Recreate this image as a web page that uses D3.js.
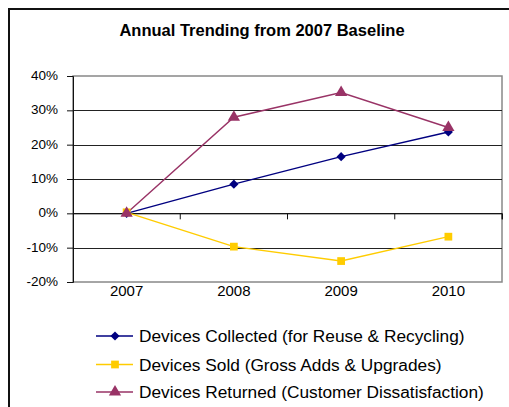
<!DOCTYPE html>
<html>
<head>
<meta charset="utf-8">
<script src="https://cdn.jsdelivr.net/npm/d3@7"></script>
<style>
body { margin: 0; background: #fff; }
text { font-family: "Liberation Sans", Arial, sans-serif; }
</style>
</head>
<body>
<div class="chart-container"></div>
<script>
var years = ["2007", "2008", "2009", "2010"];
var collected = [0, 8.5, 16.5, 23.7];
var sold = [0.3, -9.7, -13.9, -6.8];
var returned = [0, 28, 35.2, 25];
var yTicks = [40, 30, 20, 10, 0, -10, -20];
var seriesNames = [
    "Devices Collected (for Reuse & Recycling)",
    "Devices Sold (Gross Adds & Upgrades)",
    "Devices Returned (Customer Dissatisfaction)"
];

var W = 509, H = 407;
var margin = {top: 76, right: 7, bottom: 125, left: 73};
var plotW = W - margin.left - margin.right,
    plotH = H - margin.top - margin.bottom;

// diamond = square turned 45 degrees
var series = [
    {name: seriesNames[0], values: collected, color: "#000080", shape: d3.symbolSquare, size: 42, rot: 45},
    {name: seriesNames[1], values: sold, color: "#FFCC00", shape: d3.symbolSquare, size: 60, rot: 0},
    {name: seriesNames[2], values: returned, color: "#993366", shape: d3.symbolTriangle, size: 65, rot: 0}
];

var svg = d3.select(".chart-container")
    .append("svg")
    .attr("width", W)
    .attr("height", H);

// outer chart frame
svg.append("rect")
    .attr("x", 9).attr("y", 9)
    .attr("width", W + 10).attr("height", H + 10)
    .attr("fill", "none")
    .attr("stroke", "#111")
    .attr("stroke-width", 2);

svg.append("text")
    .attr("x", 262).attr("y", 36)
    .attr("text-anchor", "middle")
    .style("font-size", "16.5px")
    .style("font-weight", "bold")
    .text("Annual Trending from 2007 Baseline");

var g = svg.append("g")
    .attr("transform", "translate(" + margin.left + "," + margin.top + ")");

var x = d3.scaleBand().domain(years).range([0, plotW]).padding(0);
var y = d3.scaleLinear().domain([-20, 40]).range([plotH, 0]);

// plot border
g.append("rect")
    .attr("width", plotW).attr("height", plotH)
    .attr("fill", "none")
    .attr("stroke", "#888")
    .attr("stroke-width", 1.5);

// gridlines
g.selectAll(".grid")
    .data(yTicks.filter(function (d) { return d != 40 && d != -20; }))
    .enter().append("line")
    .attr("x1", 0).attr("x2", plotW)
    .attr("y1", function (d) { return Math.round(y(d)) + 0.5; })
    .attr("y2", function (d) { return Math.round(y(d)) + 0.5; })
    .attr("stroke", "#222")
    .attr("stroke-width", 1.2);

// y axis
var yAxis = g.append("g")
    .call(d3.axisLeft(y).tickValues(yTicks).tickSize(6).tickFormat(function (d) { return d + "%"; }));
yAxis.select(".domain").attr("stroke", "#111");
yAxis.selectAll(".tick line").attr("stroke", "#111");
yAxis.selectAll("text")
    .attr("x", -15)
    .attr("dy", "0.25em")
    .style("font-size", "13.5px")
    .style("font-family", "Liberation Sans, Arial, sans-serif")
    .attr("fill", "#000");

// category axis sits on the 0% line
var xAxis = g.append("g")
    .attr("transform", "translate(0," + y(0) + ")")
    .call(d3.axisBottom(x).tickSize(6).tickFormat(""));
xAxis.select(".domain").attr("stroke", "#111");
xAxis.selectAll(".tick line")
    .attr("transform", function () { return "translate(" + (x.bandwidth() / 2) + ",0)"; })
    .attr("stroke", "#111");

// category labels under the plot
g.selectAll(".xlab")
    .data(years)
    .enter().append("text")
    .attr("x", function (d) { return x(d) + x.bandwidth() / 2; })
    .attr("y", plotH + 14)
    .attr("text-anchor", "middle")
    .style("font-size", "15px")
    .text(function (d) { return d; });

var line = d3.line()
    .x(function (d, i) { return x(years[i]) + x.bandwidth() / 2; })
    .y(function (d) { return y(d); });

series.forEach(function (s) {
    g.append("path")
        .datum(s.values)
        .attr("d", line)
        .attr("fill", "none")
        .attr("stroke", s.color)
        .attr("stroke-width", 1.4);
});
series.forEach(function (s) {
    g.selectAll(null)
        .data(s.values)
        .enter().append("path")
        .attr("d", d3.symbol().type(s.shape).size(s.size))
        .attr("transform", function (d, i) {
            return "translate(" + (x(years[i]) + x.bandwidth() / 2) + "," + y(d) + ") rotate(" + s.rot + ")";
        })
        .attr("fill", s.color);
});

// legend
var legend = svg.append("g").attr("transform", "translate(96,336)");
var rows = legend.selectAll(".row")
    .data(series)
    .enter().append("g")
    .attr("transform", function (d, i) { return "translate(0," + [0, 28.5, 56][i] + ")"; });
rows.append("line")
    .attr("x1", 0).attr("x2", 37)
    .attr("stroke", function (d) { return d.color; })
    .attr("stroke-width", 1.5);
rows.append("path")
    .attr("d", function (d) { return d3.symbol().type(d.shape).size(d.size)(); })
    .attr("transform", function (d) { return "translate(19,0) rotate(" + d.rot + ")"; })
    .attr("fill", function (d) { return d.color; });
rows.append("text")
    .attr("x", 43).attr("y", 6)
    .style("font-size", "17.3px")
    .text(function (d) { return d.name; });
</script>
</body>
</html>
